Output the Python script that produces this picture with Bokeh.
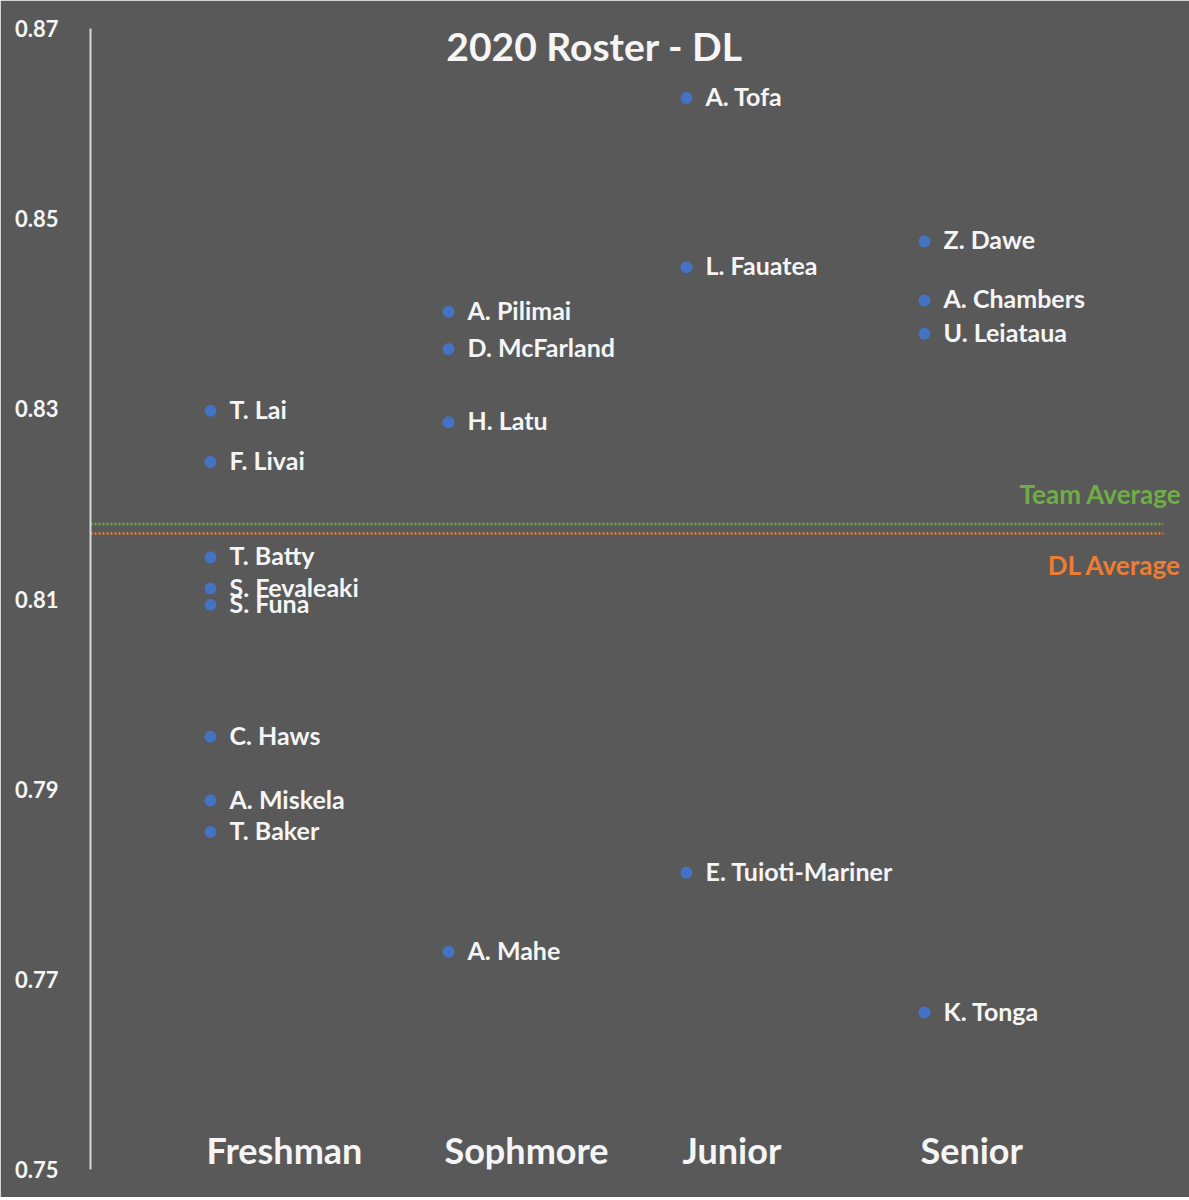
from bokeh.plotting import figure
from bokeh.models import Range1d, FixedTicker, ColumnDataSource
from bokeh.core.properties import value
from bokeh.embed import file_html
from bokeh.resources import INLINE

# ---- data ----
classes = ["Freshman", "Sophmore", "Junior", "Senior"]

fr_names = ["T. Lai", "F. Livai", "T. Batty", "S. Fevaleaki", "S. Funa", "C. Haws", "A. Miskela", "T. Baker"]
fr_vals = [0.8298, 0.8244, 0.8144, 0.8111, 0.8094, 0.7955, 0.7888, 0.7855]

so_names = ["A. Pilimai", "D. McFarland", "H. Latu", "A. Mahe"]
so_vals = [0.8402, 0.8363, 0.8286, 0.7729]

jr_names = ["A. Tofa", "L. Fauatea", "E. Tuioti-Mariner"]
jr_vals = [0.8627, 0.8449, 0.7812]

sr_names = ["Z. Dawe", "A. Chambers", "U. Leiataua", "K. Tonga"]
sr_vals = [0.8476, 0.8414, 0.8379, 0.7665]

team_avg = 0.8179
dl_avg = 0.8169

y_ticks = [0.75, 0.77, 0.79, 0.81, 0.83, 0.85, 0.87]
title_text = "2020 Roster - DL"

# ---- build ----
FONT = "Lato"
BG = "#595959"
TXT = "#f5f5f5"

xs, ys, names = [], [], []
for i, (nm, vl) in enumerate([(fr_names, fr_vals), (so_names, so_vals), (jr_names, jr_vals), (sr_names, sr_vals)]):
    for n, v in zip(nm, vl):
        xs.append(i + 1)
        ys.append(v)
        names.append(n)
src = ColumnDataSource(dict(x=xs, y=ys, name=names))

W, H = 1189, 1197
left, top = 90, 28
bottom = H - 1169
x_start = 1 - 120 / 238
x_end = x_start + (W - left) / 238
p = figure(width=W, height=H, output_backend="svg", toolbar_location=None,
           x_range=Range1d(x_start, x_end), y_range=Range1d(0.75, 0.87),
           min_border_left=left, min_border_right=0, min_border_top=top, min_border_bottom=bottom)
p.background_fill_color = BG
p.border_fill_color = BG
p.outline_line_color = BG
p.outline_line_width = 2
p.grid.visible = False
p.xaxis.visible = False

ya = p.yaxis[0]
ya.ticker = FixedTicker(ticks=y_ticks)
ya.major_tick_line_color = None
ya.minor_tick_line_color = None
ya.axis_line_color = "#d9d9d9"
ya.axis_line_width = 2
ya.major_label_standoff = 26
ya.major_label_text_color = TXT
ya.major_label_text_font = FONT
ya.major_label_text_font_style = "bold"
ya.major_label_text_font_size = "22px"

# average lines
line_end = x_start + 1073 / 238
p.line([x_start, line_end], [team_avg, team_avg], line_color="#70AD47", line_width=2.5, line_dash="2 2")
p.line([x_start, line_end], [dl_avg, dl_avg], line_color="#ED7D31", line_width=2.5, line_dash="2 2")
p.text(x=[x_end], y=[team_avg], text=["Team Average"], x_offset=-8, y_offset=-30,
       text_align="right", text_baseline="middle", text_color="#70AD47",
       text_font=value(FONT), text_font_style="bold", text_font_size="26px")
p.text(x=[x_end], y=[dl_avg], text=["DL Average"], x_offset=-8, y_offset=32,
       text_align="right", text_baseline="middle", text_color="#ED7D31",
       text_font=value(FONT), text_font_style="bold", text_font_size="26px")

# points and names
p.scatter("x", "y", source=src, size=12, fill_color="#4472C4", line_color=None)
p.text("x", "y", text="name", source=src, x_offset=19, y_offset=-2,
       text_align="left", text_baseline="middle", text_color=TXT,
       text_font=value(FONT), text_font_style="bold", text_font_size="25px")

# category labels
p.text(x=[1, 2, 3, 4], y=[0.7519] * 4, text=classes, x_offset=-4, y_offset=-1,
       text_align="left", text_baseline="middle", text_color=TXT,
       text_font=value(FONT), text_font_style="bold", text_font_size="36px")

# title
p.text(x=[1 + (594 - 210) / 238], y=[0.8679], text=[title_text], text_align="center", text_baseline="middle",
       text_color=TXT, text_font=value(FONT), text_font_style="bold", text_font_size="39px", y_offset=-2)

open("out.html", "w").write(file_html(p, INLINE))
